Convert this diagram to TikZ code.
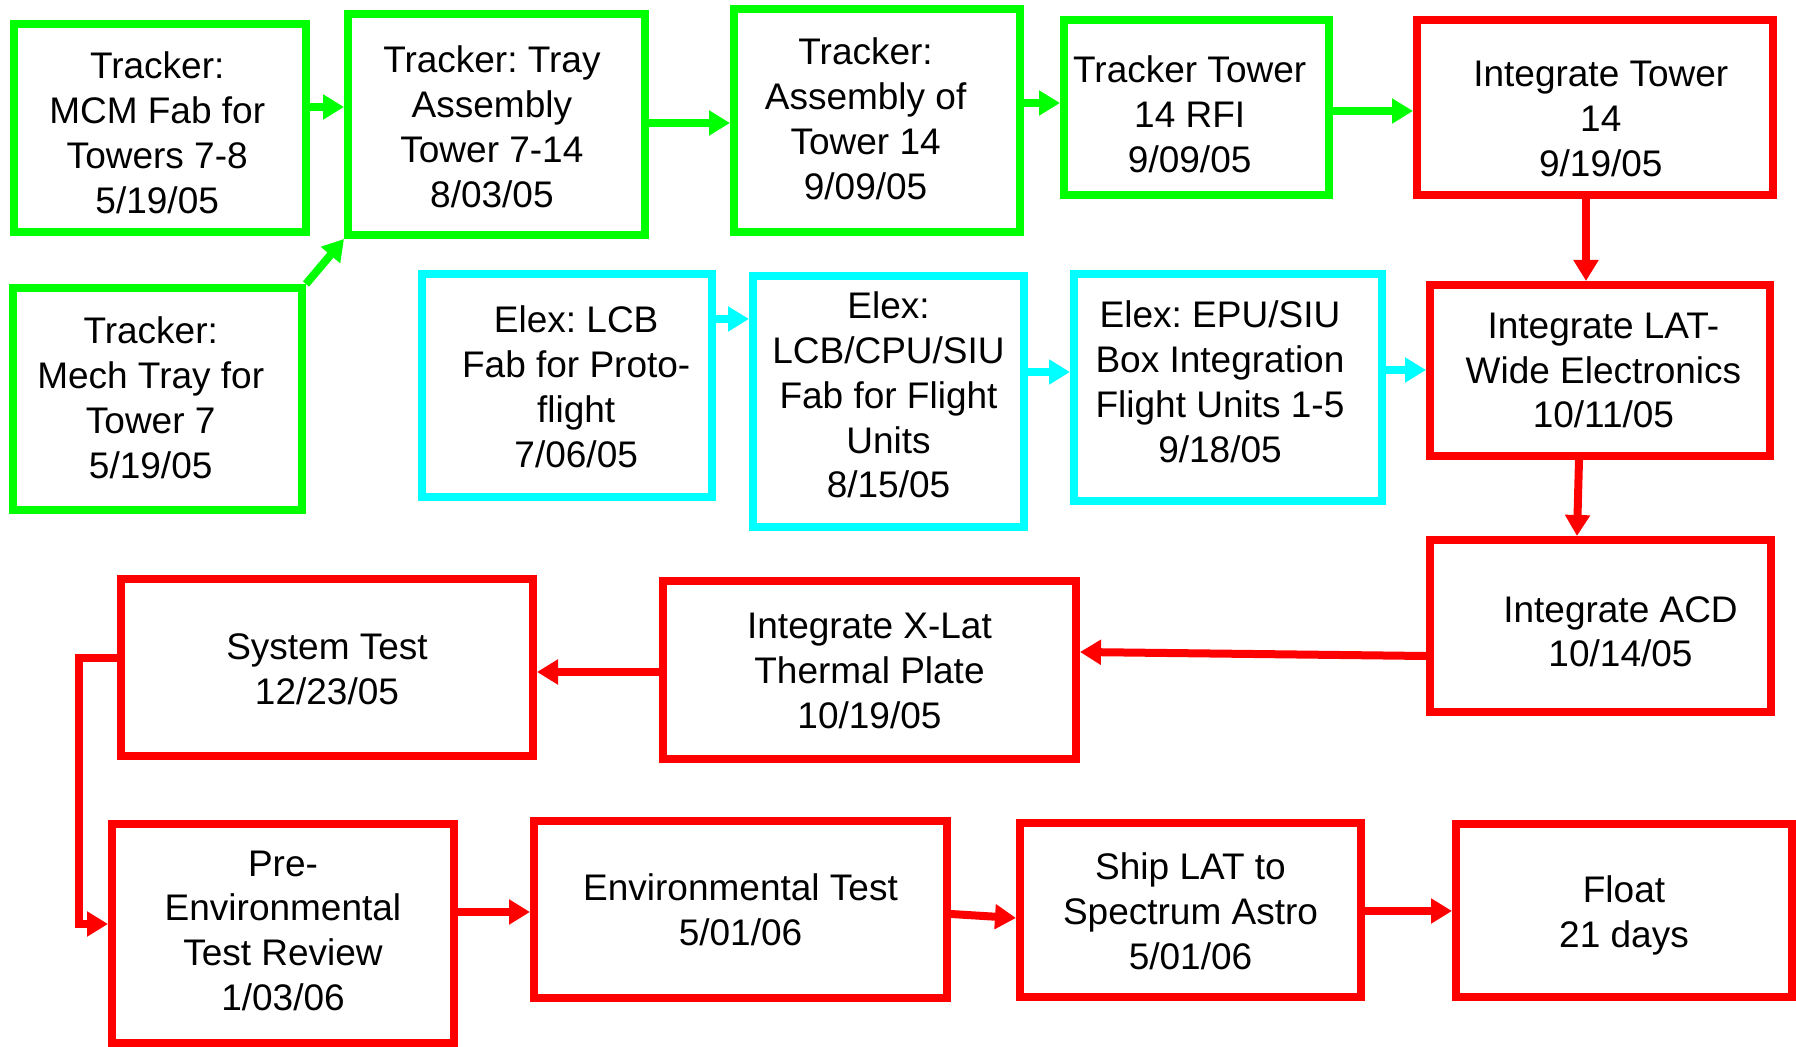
\documentclass[tikz,border=0pt]{standalone}
\usepackage{fontspec}
\setmainfont{Liberation Sans}
\usetikzlibrary{arrows.meta,calc}
\definecolor{tgreen}{RGB}{0,255,0}
\definecolor{tcyan}{RGB}{0,255,255}
\definecolor{tred}{RGB}{255,0,0}
\frenchspacing
\begin{document}
\begin{tikzpicture}[x=0.5pt,y=-0.5pt,
  lbl/.style={align=center, inner sep=0pt, font=\fontsize{18.5}{22.4}\selectfont},
  txt/.style n args={3}{label={[lbl, xshift=#1, yshift=#2]center:{#3}}},
  box/.style={draw, line width=4pt, fill=white, inner sep=0pt},
  gbox/.style={box, draw=tgreen},
  cbox/.style={box, draw=tcyan},
  rbox/.style={box, draw=tred},
  arr/.style={line width=4pt, -{Triangle[length=10.5pt,width=12pt]}},
  garr/.style={arr, draw=tgreen},
  carr/.style={arr, draw=tcyan},
  rarr/.style={arr, draw=tred}]
\useasboundingbox (0,0) rectangle (1796,1047);
% green
\node[gbox, minimum width=146pt, minimum height=104pt,
  txt={-1.4pt}{-2.3pt}{Tracker:\\MCM Fab for\\Towers 7-8\\5/19/05}] (A) at (160,128) {};
\node[gbox, minimum width=148.5pt, minimum height=110.5pt,
  txt={-2.3pt}{-1.1pt}{Tracker: Tray\\Assembly\\Tower 7-14\\8/03/05}] (B) at (496.5,124.5) {};
\node[gbox, minimum width=144.5pt, minimum height=111pt,
  txt={-3.4pt}{0.6pt}{Tracker:\\Mech Tray for\\Tower 7\\5/19/05}] (C) at (157.5,399) {};
\node[gbox, minimum width=143pt, minimum height=111.5pt,
  txt={-5.7pt}{0.9pt}{Tracker:\\Assembly of\\Tower 14\\9/09/05}] (E) at (877,120.5) {};
\node[gbox, minimum width=132.5pt, minimum height=87.5pt,
  txt={-3.4pt}{-3.4pt}{Tracker Tower\\14 RFI\\9/09/05}] (F) at (1196.5,107.5) {};
% cyan
\node[cbox, minimum width=145pt, minimum height=111.5pt,
  txt={4.6pt}{-0.6pt}{Elex: LCB\\Fab for Proto-\\flight\\7/06/05}] (D) at (567,385.5) {};
\node[cbox, minimum width=135.5pt, minimum height=125.5pt,
  txt={0pt}{3.2pt}{Elex:\\LCB/CPU/SIU\\Fab for Flight\\Units\\8/15/05}] (H) at (888.5,401.5) {};
\node[cbox, minimum width=154pt, minimum height=113.5pt,
  txt={-4pt}{2.9pt}{Elex: EPU/SIU\\Box Integration\\Flight Units 1-5\\9/18/05}] (I) at (1228,387.5) {};
% red
\node[rbox, minimum width=178pt, minimum height=87.5pt,
  txt={2.9pt}{-5.7pt}{Integrate Tower\\14\\9/19/05}] (G) at (1595,107.5) {};
\node[rbox, minimum width=170pt, minimum height=85.5pt,
  txt={1.7pt}{0pt}{Integrate LAT-\\Wide Electronics\\10/11/05}] (J) at (1600,370.5) {};
\node[rbox, minimum width=170.5pt, minimum height=86pt,
  txt={10pt}{-2.9pt}{Integrate ACD\\10/14/05}] (O) at (1600.5,626) {};
\node[rbox, minimum width=206.5pt, minimum height=89pt,
  txt={0pt}{-0.6pt}{Integrate X-Lat\\Thermal Plate\\10/19/05}] (L) at (869.5,670) {};
\node[rbox, minimum width=206pt, minimum height=88.5pt,
  txt={0pt}{-0.9pt}{System Test\\12/23/05}] (K) at (327,667.5) {};
\node[rbox, minimum width=171pt, minimum height=109.5pt,
  txt={0pt}{1.4pt}{Pre-\\Environmental\\Test Review\\1/03/06}] (M) at (283,933.5) {};
\node[rbox, minimum width=206.5pt, minimum height=88.5pt,
  txt={0pt}{0pt}{Environmental Test\\5/01/06}] (N) at (740.5,909.5) {};
\node[rbox, minimum width=170.5pt, minimum height=87pt,
  txt={0pt}{-0.6pt}{Ship LAT to\\Spectrum Astro\\5/01/06}] (P) at (1190.5,910) {};
\node[rbox, minimum width=168pt, minimum height=86.5pt,
  txt={0pt}{-2.3pt}{Float\\21 days}] (Q) at (1624,910.5) {};
% connectors
\draw[garr] (A.east |- 0,107) -- (B.west |- 0,107);
\draw[garr] (C.north east) -- (B.south west);
\draw[garr] (B.east |- 0,123) -- (E.west |- 0,123);
\draw[garr] (E.east |- 0,103) -- (F.west |- 0,103);
\draw[garr] (F.east |- 0,111) -- (G.west |- 0,111);
\draw[rarr] (G.south -| 1586,0) -- (J.north -| 1586,0);
\draw[carr] (D.east |- 0,319) -- (H.west |- 0,319);
\draw[carr] (H.east |- 0,372) -- (I.west |- 0,372);
\draw[carr] (I.east |- 0,370) -- (J.west |- 0,370);
\draw[rarr] (J.south -| 1579,0) -- (O.north -| 1577,0);
\draw[rarr] (O.west |- 0,656) -- (L.east |- 0,652);
\draw[rarr] (L.west |- 0,672) -- (K.east |- 0,672);
\coordinate (kbend) at (79,658);
\draw[rarr] (K.west |- kbend) -- (kbend) |- (M.west |- 0,924);
\draw[rarr] (M.east |- 0,912) -- (N.west |- 0,912);
\draw[rarr] (N.east |- 0,914) -- (P.west |- 0,918);
\draw[rarr] (P.east |- 0,911) -- (Q.west |- 0,911);
\end{tikzpicture}
\end{document}
